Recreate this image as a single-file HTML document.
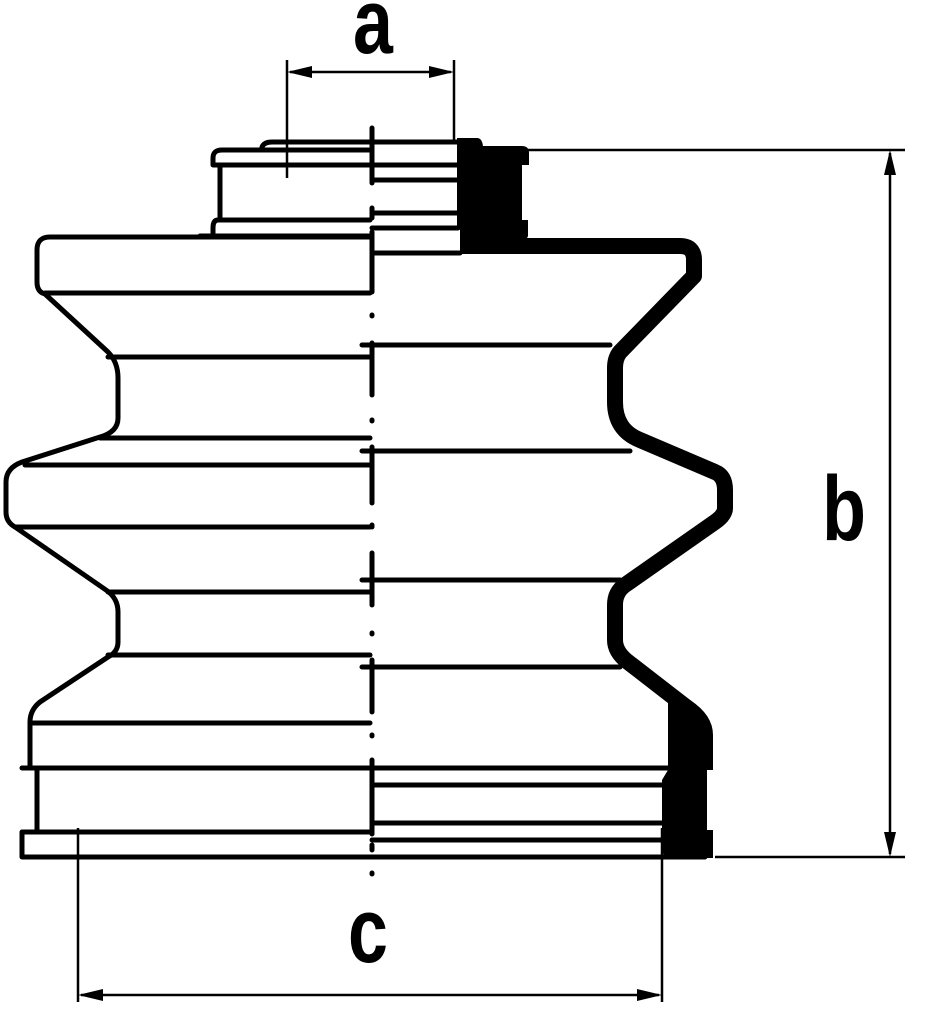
<!DOCTYPE html>
<html><head><meta charset="utf-8"><style>html,body{margin:0;padding:0;background:#fff}svg{display:block}</style></head><body>
<svg width="948" height="1024" viewBox="0 0 948 1024" xmlns="http://www.w3.org/2000/svg">
<g fill="none" stroke="#000" stroke-width="5" stroke-linecap="round" stroke-linejoin="round">
<path d="M370,150 H222 Q213,150 213,158 V165 H370"/>
<path d="M262,147 Q264,142 272,142 H460"/>
<path d="M220,165 V220"/>
<path d="M370,220 H218 Q213,220 213,228 V235"/>
<path d="M370,236 H200"/>
<path d="M370,237 H50 Q37,237 37,250 V282 Q37,292 45,294 L108,352 Q118,362 118,378 V418 Q118,432 100,437 L22,462 Q6,468 6,482 V512 Q6,522 15,527 L106,590 Q118,598 118,612 V642 Q118,652 108,657 L40,702 Q30,710 30,722 V768"/>
<path d="M45,293 H370"/><path d="M108,357 H370"/><path d="M100,438 H370"/>
<path d="M25,465 H370"/><path d="M15,527 H370"/><path d="M108,592 H370"/>
<path d="M108,655 H370"/><path d="M30,723 H370"/>
<path d="M22,768 H705"/>
<path d="M37,770 V832"/>
<path d="M22,832 H370 M22,832 V857 H705"/>
<path d="M372,165 H458"/><path d="M372,180 H458"/><path d="M372,213 H458"/><path d="M372,228 H458"/><path d="M372,253 H460"/>
<path d="M372,345 H610"/><path d="M372,451 H630"/><path d="M372,580 H620"/><path d="M372,667 H620"/>
<path d="M372,785 H665"/><path d="M372,823 H665"/><path d="M372,840 H665"/><path d="M372,772 V823"/>
<path d="M372,128 V183 M372,208 V218 M372,232 V292 M372,315 V316 M372,343 V395 M372,420 V421 M372,447 V503 M372,525 V527 M372,553 V605 M372,633 V634 M372,660 V712 M372,735 V736 M372,760 V776 M372,810 V816 M372,825 V834 M372,845 V850 M372,873 V874"/>
<path d="M362,345 H372 M362,451 H372 M362,580 H372 M362,667 H372"/>
</g>
<path d="M460,246 H680 Q694,246 694,260 V276 L620,352 Q615,358 615,368 V402 Q615,430 640,440 L715,472 Q725,476 725,490 V508 Q725,515 715,522 L625,585 Q615,592 615,605 V640 Q615,652 628,662 L690,710" fill="none" stroke="#000" stroke-width="16" stroke-linejoin="round"/>
<path d="M457,138 H477 Q482,138 483,146 H522 Q529,146 529,153 V165 H522 V220 H528 V236 L520,254 H460 V228 H457 Z" fill="#000"/>
<path d="M668,700 L690,700 Q713,715 713,735 V770 H707 V830 H713 V858 H672 Q662,858 662,848 V780 L668,770 Z" fill="#000"/>
<g stroke="#000" stroke-width="2.5" fill="none">
<path d="M287,60 V178 M454,60 V140 M290,72 H451"/>
<path d="M520,150 H905 M715,857 H905 M890,153 V854"/>
<path d="M78,828 V1002 M662,828 V1002 M81,995 H659"/>
</g>
<g fill="#000">
<path d="M287,72 L312,66 L312,78 Z"/><path d="M454,72 L429,66 L429,78 Z"/>
<path d="M890,150 L884,175 L896,175 Z"/><path d="M890,857 L884,832 L896,832 Z"/>
<path d="M78,995 L103,989 L103,1001 Z"/><path d="M662,995 L637,989 L637,1001 Z"/>
</g>
<g font-family="Liberation Sans, sans-serif" font-weight="bold" font-size="92" fill="#000" text-anchor="middle">
<text transform="translate(373,53) scale(0.78,1)">a</text>
<text transform="translate(844,540) scale(0.78,1)">b</text>
<text transform="translate(368,962) scale(0.78,1)">c</text>
</g>
</svg>
</body></html>
